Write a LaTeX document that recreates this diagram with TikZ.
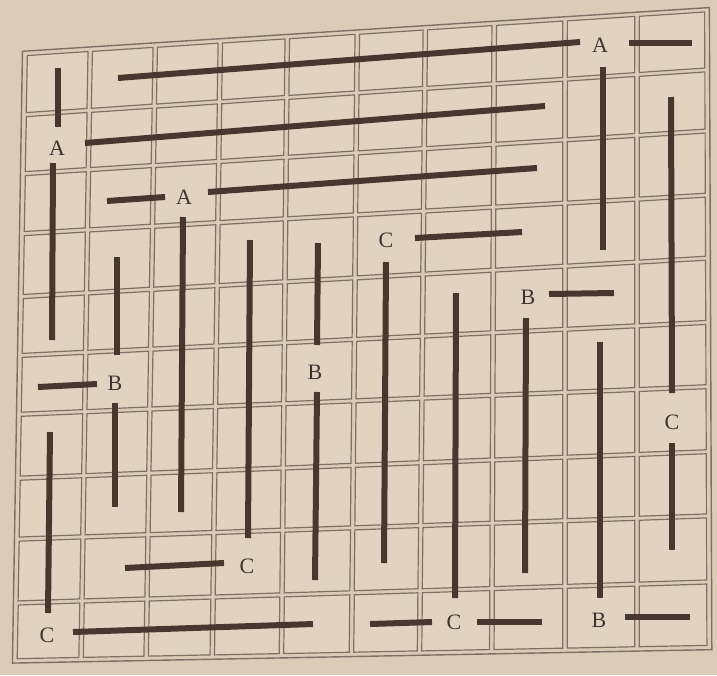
\documentclass[tikz,border=0pt]{standalone}
\usepackage{fontspec}
\setmainfont{Liberation Serif}
\usetikzlibrary{calc}
\definecolor{paper}{RGB}{218,204,182}
\definecolor{tile}{RGB}{224,212,192}
\definecolor{gridc}{RGB}{125,113,101}
\definecolor{barc}{RGB}{70,56,47}
\definecolor{ink}{RGB}{62,52,46}
\tikzset{
  cellbox/.style={draw=gridc,line width=1.2pt,fill=tile},
  frame/.style={draw=gridc,line width=1.4pt},
  bar/.style={draw=barc,line width=6pt},
  letter/.style={text=ink,inner sep=0pt,font=\fontsize{22}{22}\selectfont}
}
\begin{document}
\begin{tikzpicture}[x=1pt,y=-1pt]
\useasboundingbox (0,0) rectangle (717,675);
\fill[paper] (0,0) rectangle (717,675);
% grid corner points (perspective)
\foreach \ii/\ta/\tb in {0/25/16,1/90/82,2/155/147,3/220/213,4/287/282,5/357/352,6/425/420,7/494/492,8/565/565,9/637/637,10/707/709}{
  \foreach \jj/\hl/\hr in {0/52/12,1/113/72,2/172/133,3/232/197,4/295/260,5/354/324,6/413/388,7/477/453,8/538/517,9/602/583,10/660/648}{
    \pgfmathsetmacro\yy{\hl+(\hr-\hl)/625*(\ta-50)}
    \pgfmathsetmacro\xx{\ta+(\tb-\ta)/540*(\yy-60)}
    \pgfmathsetmacro\yy{\hl+(\hr-\hl)/625*(\xx-50)}
    \pgfmathsetmacro\xx{\ta+(\tb-\ta)/540*(\yy-60)}
    \coordinate (c\ii-\jj) at (\xx,\yy);}}
% outer frame
\draw[frame] ($(c0-0)!-3.5pt!(c10-10)$) -- ($(c10-0)!-3.5pt!(c0-10)$) -- ($(c10-10)!-3.5pt!(c0-0)$) -- ($(c0-10)!-3.5pt!(c10-0)$) -- cycle;
% tiles
\foreach \i [evaluate=\i as \ip using int(\i+1)] in {0,...,9}{
  \foreach \j [evaluate=\j as \jp using int(\j+1)] in {0,...,9}{
    \draw[cellbox] ($(c\i-\j)!3pt!(c\ip-\jp)$) -- ($(c\ip-\j)!3pt!(c\i-\jp)$) -- ($(c\ip-\jp)!3pt!(c\i-\j)$) -- ($(c\i-\jp)!3pt!(c\ip-\j)$) -- cycle;}}
% letters
\node[letter] (a1) at (600,45) {A};
\node[letter] (a2) at (57,148) {A};
\node[letter] (a3) at (184,197) {A};
\node[letter] (c1) at (386,240) {C};
\node[letter] (b1) at (528,297) {B};
\node[letter] (b2) at (115,383) {B};
\node[letter] (b3) at (315,372) {B};
\node[letter] (c2) at (672,422) {C};
\node[letter] (c3) at (247,566) {C};
\node[letter] (c4) at (47,635) {C};
\node[letter] (c5) at (454,622) {C};
\node[letter] (b4) at (599,620) {B};
% bars
\draw[bar] (58,68) -- (58,127);
\draw[bar] (53,163) -- (52,340);
\draw[bar] (118,78) -- (580,42);
\draw[bar] (629,43) -- (692,43);
\draw[bar] (85,143) -- (545,106);
\draw[bar] (107,201) -- (165,197);
\draw[bar] (208,192) -- (537,168);
\draw[bar] (603,67) -- (603,250);
\draw[bar] (671,97) -- (672,393);
\draw[bar] (415,238) -- (522,232);
\draw[bar] (117,257) -- (117,355);
\draw[bar] (115,403) -- (115,507);
\draw[bar] (183,217) -- (181,512);
\draw[bar] (250,240) -- (248,538);
\draw[bar] (318,243) -- (317,345);
\draw[bar] (317,392) -- (315,580);
\draw[bar] (386,262) -- (384,563);
\draw[bar] (456,293) -- (455,598);
\draw[bar] (549,294) -- (614,293);
\draw[bar] (526,318) -- (525,573);
\draw[bar] (600,342) -- (600,598);
\draw[bar] (625,617) -- (690,617);
\draw[bar] (672,443) -- (672,550);
\draw[bar] (370,624) -- (432,622);
\draw[bar] (477,622) -- (542,622);
\draw[bar] (38,387) -- (97,384);
\draw[bar] (50,432) -- (48,613);
\draw[bar] (73,632) -- (313,624);
\draw[bar] (125,568) -- (224,563);
\end{tikzpicture}
\end{document}
